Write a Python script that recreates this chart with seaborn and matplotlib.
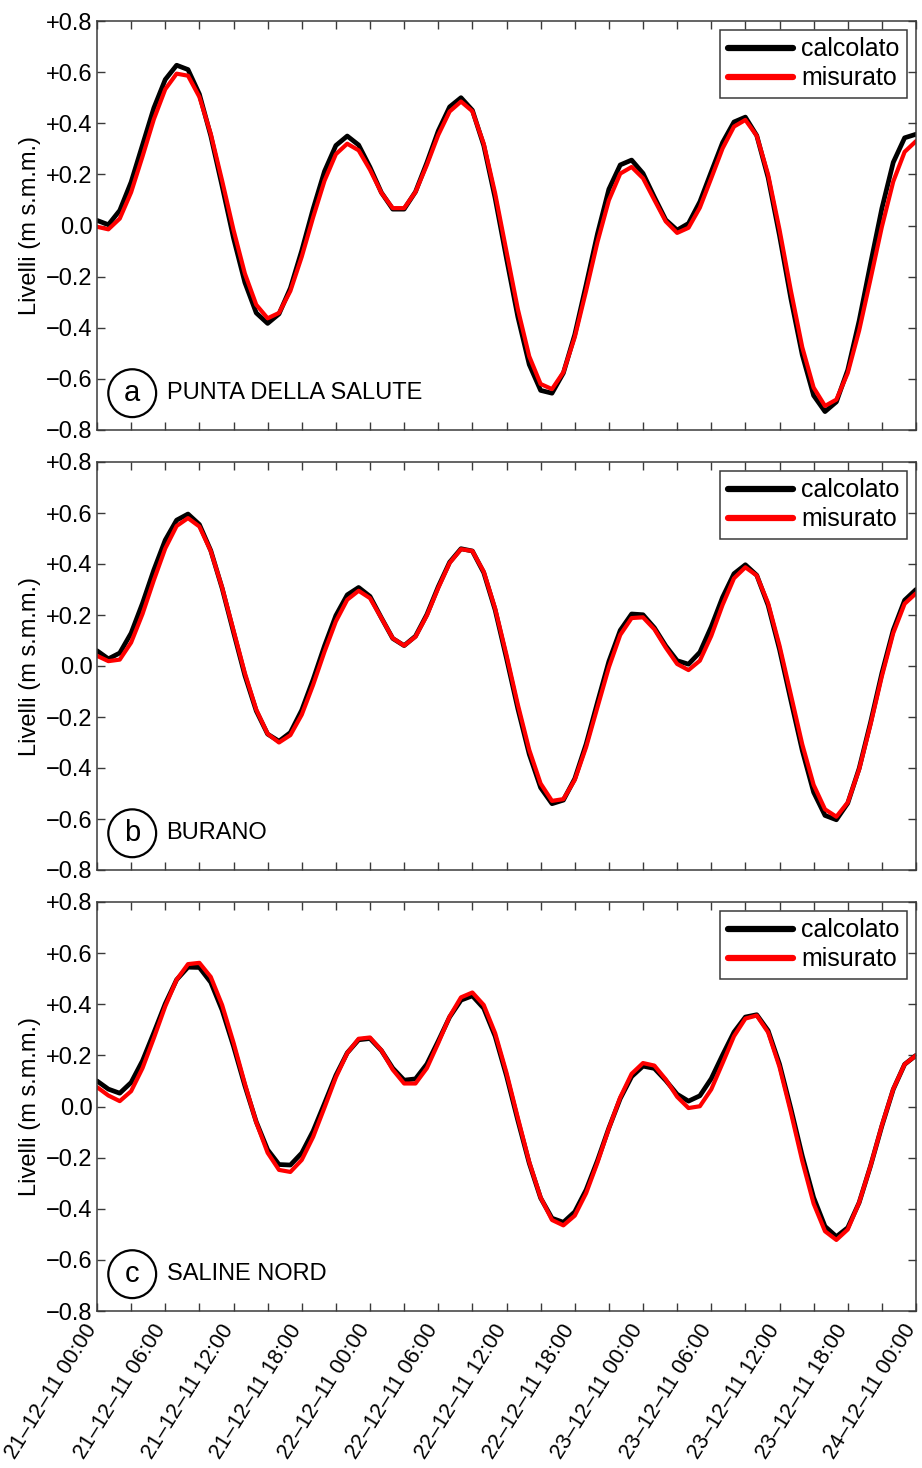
import numpy as np
import pandas as pd
import matplotlib
matplotlib.use("Agg")
import matplotlib.pyplot as plt
import matplotlib.dates as mdates
import matplotlib.ticker as mticker
import matplotlib.transforms as mtransforms
import seaborn as sns

# ---------------- data (hourly, 21-12-2011 00:00 -> 24-12-2011 00:00) -------------
start_time = "2011-12-21 00:00"
n_hours = 73

a_calc = [0.020, 0.003, 0.059, 0.170, 0.315, 0.460, 0.571, 0.627, 0.610, 0.514, 0.351, 0.154,
          -0.049, -0.223, -0.342, -0.383, -0.346, -0.245, -0.098, 0.065, 0.212, 0.313, 0.350,
          0.315, 0.228, 0.129, 0.064, 0.064, 0.132, 0.246, 0.370, 0.464, 0.500, 0.451, 0.313,
          0.107, -0.129, -0.358, -0.544, -0.645, -0.656, -0.577, -0.427, -0.232, -0.032, 0.142,
          0.237, 0.256, 0.204, 0.111, 0.022, -0.018, 0.008, 0.093, 0.210, 0.325, 0.405, 0.424,
          0.352, 0.187, -0.039, -0.286, -0.506, -0.665, -0.728, -0.690, -0.565, -0.373, -0.150,
          0.067, 0.247, 0.343, 0.357]
a_mis = [-0.005, -0.015, 0.027, 0.130, 0.270, 0.416, 0.533, 0.594, 0.586, 0.503, 0.359, 0.175,
         -0.017, -0.188, -0.310, -0.363, -0.342, -0.256, -0.122, 0.032, 0.175, 0.279, 0.320,
         0.294, 0.218, 0.128, 0.068, 0.068, 0.131, 0.237, 0.354, 0.446, 0.485, 0.447, 0.320,
         0.126, -0.102, -0.328, -0.512, -0.620, -0.640, -0.574, -0.437, -0.255, -0.064, 0.099,
         0.203, 0.229, 0.185, 0.100, 0.016, -0.029, -0.009, 0.070, 0.185, 0.302, 0.387, 0.413,
         0.351, 0.199, -0.016, -0.255, -0.476, -0.634, -0.706, -0.681, -0.577, -0.411, -0.210,
         -0.005, 0.172, 0.288, 0.330]
b_calc = [0.060, 0.028, 0.051, 0.129, 0.246, 0.377, 0.494, 0.572, 0.596, 0.555, 0.453, 0.305,
          0.133, -0.037, -0.176, -0.267, -0.295, -0.261, -0.173, -0.053, 0.079, 0.198, 0.279,
          0.308, 0.273, 0.189, 0.108, 0.080, 0.117, 0.202, 0.311, 0.407, 0.460, 0.451, 0.366,
          0.220, 0.030, -0.168, -0.346, -0.477, -0.540, -0.526, -0.442, -0.306, -0.142, 0.018,
          0.140, 0.204, 0.201, 0.150, 0.079, 0.021, 0.007, 0.054, 0.154, 0.270, 0.362, 0.397,
          0.356, 0.238, 0.065, -0.135, -0.331, -0.495, -0.586, -0.603, -0.538, -0.402, -0.222,
          -0.028, 0.141, 0.258, 0.300]
b_mis = [0.040, 0.019, 0.025, 0.092, 0.204, 0.337, 0.461, 0.549, 0.580, 0.547, 0.451, 0.308,
         0.140, -0.028, -0.171, -0.266, -0.300, -0.271, -0.191, -0.074, 0.056, 0.175, 0.260,
         0.295, 0.266, 0.188, 0.109, 0.080, 0.115, 0.198, 0.306, 0.404, 0.458, 0.451, 0.370,
         0.226, 0.043, -0.152, -0.329, -0.461, -0.529, -0.522, -0.447, -0.318, -0.161, -0.005,
         0.122, 0.188, 0.191, 0.144, 0.072, 0.008, -0.016, 0.021, 0.118, 0.240, 0.344, 0.387,
         0.355, 0.246, 0.080, -0.113, -0.307, -0.466, -0.562, -0.591, -0.535, -0.406, -0.230,
         -0.040, 0.129, 0.244, 0.285]
c_calc = [0.100, 0.068, 0.052, 0.094, 0.179, 0.289, 0.402, 0.496, 0.545, 0.544, 0.486, 0.377,
          0.236, 0.081, -0.060, -0.169, -0.227, -0.229, -0.182, -0.096, 0.012, 0.122, 0.210,
          0.261, 0.266, 0.219, 0.150, 0.103, 0.108, 0.166, 0.256, 0.350, 0.416, 0.433, 0.384,
          0.275, 0.120, -0.055, -0.222, -0.358, -0.437, -0.453, -0.412, -0.326, -0.211, -0.084,
          0.031, 0.117, 0.158, 0.149, 0.102, 0.048, 0.021, 0.042, 0.109, 0.202, 0.291, 0.350,
          0.359, 0.297, 0.166, -0.008, -0.193, -0.356, -0.469, -0.509, -0.474, -0.376, -0.233,
          -0.076, 0.067, 0.165, 0.200]
c_mis = [0.076, 0.043, 0.021, 0.060, 0.150, 0.268, 0.392, 0.496, 0.557, 0.562, 0.507, 0.397,
         0.250, 0.089, -0.062, -0.181, -0.248, -0.256, -0.209, -0.119, -0.004, 0.114, 0.209,
         0.265, 0.270, 0.220, 0.144, 0.090, 0.090, 0.150, 0.248, 0.352, 0.427, 0.446, 0.397,
         0.287, 0.132, -0.045, -0.217, -0.356, -0.444, -0.465, -0.427, -0.339, -0.219, -0.086,
         0.036, 0.128, 0.170, 0.160, 0.106, 0.038, -0.006, 0.001, 0.067, 0.170, 0.275, 0.344,
         0.356, 0.290, 0.155, -0.023, -0.213, -0.380, -0.488, -0.522, -0.481, -0.376, -0.233,
         -0.074, 0.068, 0.165, 0.200]

panel_letters = ["a", "b", "c"]
panel_names = ["PUNTA DELLA SALUTE", "BURANO", "SALINE NORD"]
series_names = ["calcolato", "misurato"]
series_colors = ["#000000", "#ff0000"]
y_ticks = [-0.8, -0.6, -0.4, -0.2, 0.0, 0.2, 0.4, 0.6, 0.8]
y_label = "Livelli (m s.m.m.)"

times = pd.date_range(start_time, periods=n_hours, freq="h")
panels = [(a_calc, a_mis), (b_calc, b_mis), (c_calc, c_mis)]

# ---------------- style -------------
sns.set_theme(style="white")
plt.rcParams["font.family"] = ["Liberation Sans", "DejaVu Sans"]
plt.rcParams["axes.unicode_minus"] = True
plt.rcParams["text.color"] = "black"
plt.rcParams["axes.labelcolor"] = "black"

W, H = 922, 1468
fig = plt.figure(figsize=(W / 100, H / 100), dpi=100)

left_px, right_px = 97, 916
tops = [21, 462, 902]
bottoms = [430, 870, 1311]

spine_col = "#3a3a3a"


def yfmt(v, pos):
    if abs(v) < 1e-9:
        return "0.0"
    if v > 0:
        return "+%.1f" % v
    return "\u2212%.1f" % abs(v)


for i, (calc, mis) in enumerate(panels):
    ax = fig.add_axes([left_px / W, 1 - bottoms[i] / H,
                       (right_px - left_px) / W, (bottoms[i] - tops[i]) / H])
    df = pd.DataFrame({"t": times, "calcolato": calc, "misurato": mis})
    sns.lineplot(data=df, x="t", y="calcolato", ax=ax, color=series_colors[0],
                 lw=3.4, label=series_names[0])
    sns.lineplot(data=df, x="t", y="misurato", ax=ax, color=series_colors[1],
                 lw=3.0, label=series_names[1])
    for ln in ax.get_lines():
        ln.set_solid_joinstyle("round")
        ln.set_solid_capstyle("round")

    ax.set_xlim(times[0], times[-1])
    ax.set_ylim(-0.8, 0.8)
    ax.set_yticks(y_ticks)
    ax.yaxis.set_major_formatter(mticker.FuncFormatter(yfmt))
    ax.xaxis.set_major_locator(mdates.HourLocator(byhour=[0, 6, 12, 18]))
    ax.xaxis.set_minor_locator(mdates.HourLocator(byhour=[3, 9, 15, 21]))
    ax.xaxis.set_major_formatter(mdates.DateFormatter("%d\u2013%m\u2013%y %H:%M"))

    ax.tick_params(axis="both", which="both", direction="in", length=6, width=1.0,
                   color=spine_col, top=True, right=True, bottom=True, left=True,
                   labelsize=17, labelcolor="black", pad=3)
    for sp in ax.spines.values():
        sp.set_color(spine_col)
        sp.set_linewidth(1.1)

    ax.set_ylabel(y_label, fontsize=17, color="black", labelpad=4)
    ax.set_xlabel("")
    ax.grid(False)

    if i < 2:
        ax.tick_params(axis="x", which="both", labelbottom=False)
    else:
        ax.tick_params(axis="x", which="major", pad=11)
        offset = mtransforms.ScaledTranslation(-4.5 / 100, 0, fig.dpi_scale_trans)
        for lab in ax.get_xticklabels():
            lab.set_rotation(58)
            lab.set_ha("right")
            lab.set_va("center")
            lab.set_rotation_mode("anchor")
            lab.set_fontsize(15.5)
            lab.set_transform(lab.get_transform() + offset)

    leg = ax.legend(loc="upper right", fontsize=18, frameon=True, fancybox=False,
                    framealpha=1, edgecolor=spine_col, handlelength=2.6,
                    handletextpad=0.35, labelspacing=0.2, borderpad=0.3,
                    borderaxespad=0.35)
    leg.get_frame().set_linewidth(1.1)
    for t in leg.get_texts():
        t.set_color("black")
    for ln in leg.get_lines():
        ln.set_linewidth(4.5)

    ax.text(0.043, 0.09, panel_letters[i], transform=ax.transAxes, ha="center",
            va="center", fontsize=21, color="black",
            bbox=dict(boxstyle="circle,pad=0.34", fc="white", ec="black", lw=1.6))
    ax.text(0.085, 0.09, panel_names[i], transform=ax.transAxes, ha="left",
            va="center", fontsize=17, color="black")

fig.savefig("out.png", dpi=100)
